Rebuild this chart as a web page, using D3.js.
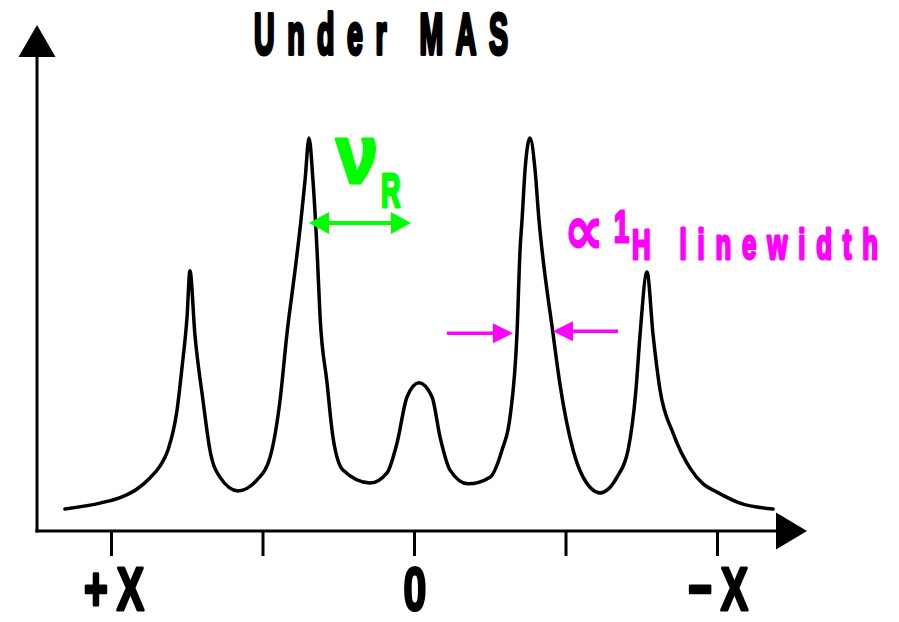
<!DOCTYPE html>
<html>
<head>
<meta charset="utf-8">
<script src="https://cdn.jsdelivr.net/npm/d3@7"></script>
<style>
  html, body { margin: 0; padding: 0; background: #fff; }
  svg { display: block; }
</style>
</head>
<body>
<div id="chart"></div>
<script>
// spectrum
// offset in tick units (+X on the left), intensity with the two big sidebands = 100
var offsets = [2.304, 2.073, 1.927, 1.828, 1.743, 1.677, 1.624, 1.564, 1.531, 1.498, 1.479,
    1.446, 1.393, 1.347, 1.281, 1.162, 1.036, 0.950, 0.884, 0.838, 0.785,
    0.746, 0.719, 0.693, 0.667, 0.640, 0.620, 0.574, 0.535, 0.469, 0.290,
    0.178, 0.112, 0.046, -0.033, -0.119, -0.172, -0.238, -0.356, -0.502, -0.581,
    -0.634, -0.680, -0.700, -0.713, -0.733, -0.766, -0.799, -0.825, -0.845, -0.917,
    -0.964, -1.050, -1.116, -1.228, -1.340, -1.413, -1.465, -1.492, -1.538, -1.578,
    -1.624, -1.710, -1.822, -1.908, -2.000, -2.152, -2.370];
var intensities = [5.6, 7.1, 8.7, 10.7, 13.5, 16.5, 20.6, 30.8, 41.7, 54.5, 66.2,
    49.9, 33.3, 20.6, 13.7, 10.2, 13.0, 18.8, 33.3, 50.4, 66.4,
    79.1, 89.3, 100, 89.3, 71.5, 54.5, 37.7, 23.9, 15.5, 12.2,
    14.8, 22.4, 34.1, 37.7, 34.1, 23.9, 15.5, 12.0, 13.7, 20.6,
    29.0, 50.4, 71.5, 79.1, 91.9, 100, 91.9, 79.1, 71.5, 50.4,
    37.2, 20.6, 13.7, 9.7, 13.7, 20.6, 35.9, 49.9, 65.9, 49.9,
    35.9, 24.9, 16.0, 12.0, 9.9, 7.1, 5.6];

var tickValues = [2, 1, 0, -1, -2];
var tickLabels = ["+X", "", "0", "", "\u2212X"];

// annotations, in the same data units
var nuRArrow = [0.693, 0.02];        // start / end offset
var nuRLevel = 78.4;
var widthArrowLeft = [-0.218, -0.653];   // tail, tip
var widthArrowRight = [-1.347, -0.917];  // tail, tip
var widthLevel = 50.3;

var svgW = 899, svgH = 622;
var axisLeft = 37, axisTop = 25, axisRight = 807;

var svg = d3.select("#chart").append("svg").attr("width", svgW).attr("height", svgH);

var x = d3.scaleLinear().domain([2, -2]).range([111, 717]);
var y = d3.scaleLinear().domain([0, 100]).range([531, 138]);

var FONT = "'Liberation Sans', Arial, sans-serif";

// narrow, widely spaced heavy lettering like the original
function squeezed(parent, str, px, py, o) {
    var g = parent.append("g")
        .attr("transform", "translate(" + px + "," + py + ") scale(" + o.sx + ",1)");
    var t = g.append("text")
        .text(str)
        .attr("font-family", o.font || FONT)
        .attr("font-weight", "bold")
        .attr("font-size", o.size)
        .attr("fill", o.color || "#000")
        .attr("stroke", o.color || "#000")
        .attr("stroke-width", o.heavy || 0)
        .attr("stroke-linejoin", "round")
        .attr("text-anchor", o.anchor || "start");
    if (o.width) t.attr("textLength", o.width / o.sx).attr("lengthAdjust", "spacing");
    return t;
}

function arrowHead(parent, tipX, tipY, dir, len, half, color) {
    // dir: 1 points right, -1 left, 'up' points up
    var pts;
    if (dir === "up") pts = [[tipX, tipY], [tipX - half, tipY + len], [tipX + half, tipY + len]];
    else pts = [[tipX, tipY], [tipX - dir * len, tipY - half], [tipX - dir * len, tipY + half]];
    parent.append("path")
        .attr("d", "M" + pts.map(function (p) { return p.join(","); }).join("L") + "Z")
        .attr("fill", color);
}

// axes
var y0 = y(0);
svg.append("line")
    .attr("x1", axisLeft).attr("x2", axisLeft)
    .attr("y1", y0 + 1.5).attr("y2", axisTop + 30)
    .attr("stroke", "#000").attr("stroke-width", 3);
arrowHead(svg, axisLeft, axisTop, "up", 32, 18.5, "#000");

svg.append("line")
    .attr("x1", axisLeft - 1.5).attr("x2", axisRight - 30)
    .attr("y1", y0).attr("y2", y0)
    .attr("stroke", "#000").attr("stroke-width", 3);
arrowHead(svg, axisRight, y0, 1, 31, 18.5, "#000");

var xAxis = d3.axisBottom(x).tickValues(tickValues).tickSize(25).tickSizeOuter(0).tickFormat("");
var gx = svg.append("g").attr("transform", "translate(0," + y0 + ")").call(xAxis);
gx.select(".domain").remove();
gx.selectAll(".tick line").attr("stroke", "#000").attr("stroke-width", 3);

tickValues.forEach(function (v, i) {
    if (!tickLabels[i]) return;
    squeezed(svg, tickLabels[i], x(v) + (i === 0 ? 3 : 1), 610, {
        size: 62, sx: 0.66, anchor: "middle", heavy: 3,
        width: tickLabels[i].length > 1 ? 60 : null
    });
});

// spectrum
var points = offsets.map(function (u, i) { return { u: u, v: intensities[i] }; });
var line = d3.line()
    .x(function (d) { return x(d.u); })
    .y(function (d) { return y(d.v); })
    .curve(d3.curveMonotoneX);
svg.append("path")
    .datum(points)
    .attr("d", line)
    .attr("fill", "none")
    .attr("stroke", "#000")
    .attr("stroke-width", 3.5)
    .attr("stroke-linejoin", "round")
    .attr("stroke-linecap", "round");

// title
squeezed(svg, "Under MAS", 254, 54, { size: 57, sx: 0.5, width: 254, heavy: 4 });

// nu_R spacing
var green = "#00ff00";
var ga = x(nuRArrow[0]), gb = x(nuRArrow[1]), gy = y(nuRLevel);
svg.append("line")
    .attr("x1", ga + 10).attr("x2", gb - 10).attr("y1", gy).attr("y2", gy)
    .attr("stroke", green).attr("stroke-width", 4);
arrowHead(svg, ga, gy, -1, 20, 11, green);
arrowHead(svg, gb, gy, 1, 20, 11, green);
squeezed(svg, "\u03bd", 336, 183, { size: 84, sx: 0.9, color: green, heavy: 3 });
squeezed(svg, "R", 381, 207, { size: 49, sx: 0.55, color: green, heavy: 3 });

// linewidth
var magenta = "#ff00ff";
var wy = y(widthLevel);
svg.append("line")
    .attr("x1", x(widthArrowLeft[0])).attr("x2", x(widthArrowLeft[1]) - 10)
    .attr("y1", wy).attr("y2", wy)
    .attr("stroke", magenta).attr("stroke-width", 3.5);
arrowHead(svg, x(widthArrowLeft[1]), wy, 1, 20, 10, magenta);
svg.append("line")
    .attr("x1", x(widthArrowRight[0])).attr("x2", x(widthArrowRight[1]) + 10)
    .attr("y1", wy - 2).attr("y2", wy - 2)
    .attr("stroke", magenta).attr("stroke-width", 3.5);
arrowHead(svg, x(widthArrowRight[1]), wy - 2, -1, 20, 10, magenta);

squeezed(svg, "\u221d", 564, 254, { size: 70, sx: 0.8, color: magenta, heavy: 1.5, font: "'DejaVu Sans', sans-serif" });
squeezed(svg, "1", 614, 242, { size: 45, sx: 0.6, color: magenta, heavy: 3 });
squeezed(svg, "H linewidth", 632, 259, { size: 43, sx: 0.6, color: magenta, width: 246, heavy: 3 });
</script>
</body>
</html>
